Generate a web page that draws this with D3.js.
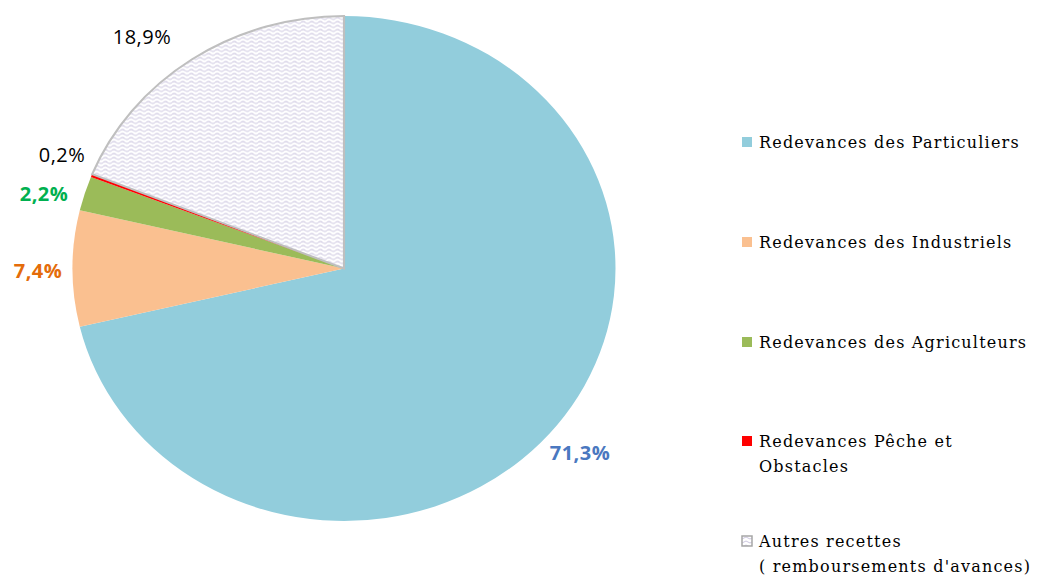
<!DOCTYPE html>
<html><head><meta charset="utf-8">
<script src="https://cdn.jsdelivr.net/npm/d3@7"></script>
<style>body{margin:0;background:#fff}svg{display:block}</style>
</head><body>
<svg id="c" width="1037" height="575"></svg>
<script>
const categories = ["Redevances des Particuliers","Redevances des Industriels","Redevances des Agriculteurs","Redevances Pêche et Obstacles","Autres recettes ( remboursements d'avances)"];
const legendLines = [["Redevances des Particuliers"],["Redevances des Industriels"],["Redevances des Agriculteurs"],["Redevances Pêche et","Obstacles"],["Autres recettes","( remboursements d'avances)"]];
const values = [71.3, 7.4, 2.2, 0.2, 18.9];
const valueLabels = ["71,3%","7,4%","2,2%","0,2%","18,9%"];
const colors = ["#92cddc","#fac090","#9bbb59","#ff0000","url(#wave)"];
const labelColors = ["#4a78c0","#e46c0a","#00b050","#000000","#000000"];
const labelWeights = ["bold","bold","bold","normal","normal"];

const svg = d3.select("#c");
const defs = svg.append("defs");
const pat = defs.append("pattern").attr("id","wave").attr("patternUnits","userSpaceOnUse").attr("width",8).attr("height",4);
pat.append("rect").attr("width",8).attr("height",4).attr("fill","#ffffff");
pat.append("path").attr("d","M0,2 Q2,0 4,2 T8,2").attr("fill","none").attr("stroke","#c5bedb").attr("stroke-width",0.9);

const cx = 344, cy = 268.5, ry = 252.5, rx = 271.5;
const pie = d3.pie().sort(null).value(d => d);
const arcs = pie(values);
const arc = d3.arc().innerRadius(0).outerRadius(ry);
const g = svg.append("g").attr("transform",`translate(${cx},${cy}) scale(${rx/ry},1)`);
g.selectAll("path").data(arcs).join("path")
  .attr("d", arc)
  .attr("fill", (d,i) => colors[i])
  .attr("stroke", (d,i) => i===4 ? "#bfbfbf" : "none")
  .attr("stroke-width", 2);

// labels
const labelPos = [[580,452],[38,270],[44,193],[62,154],[142,36]];
svg.selectAll("text.lbl").data(valueLabels).join("text")
  .attr("class","lbl")
  .attr("x",(d,i)=>labelPos[i][0]).attr("y",(d,i)=>labelPos[i][1])
  .attr("text-anchor","middle").attr("dominant-baseline","central")
  .attr("font-family","'Open Sans', 'DejaVu Sans', sans-serif")
  .attr("font-size",20)
  .attr("letter-spacing",0.5)
  .attr("font-weight",(d,i)=>labelWeights[i])
  .attr("fill",(d,i)=>labelColors[i])
  .text(d=>d);

// legend
const legendY = [142, 242, 342, 441, 541];
const lg = svg.append("g");
legendLines.forEach((lines,i)=>{
  const y = legendY[i];
  lg.append("rect").attr("x",742).attr("y",y-5).attr("width",10).attr("height",10)
    .attr("fill",colors[i]).attr("stroke", i===4 ? "#a6a6a6" : "none").attr("stroke-width",1.5);
  lines.forEach((t,j)=>{
    lg.append("text").attr("x",759).attr("y",y+25*j).attr("dominant-baseline","central")
      .attr("font-family","'DejaVu Serif', 'Liberation Serif', serif").attr("font-size",16)
      .attr("letter-spacing",1.2)
      .attr("fill","#000").text(t);
  });
});
</script>
</body></html>
